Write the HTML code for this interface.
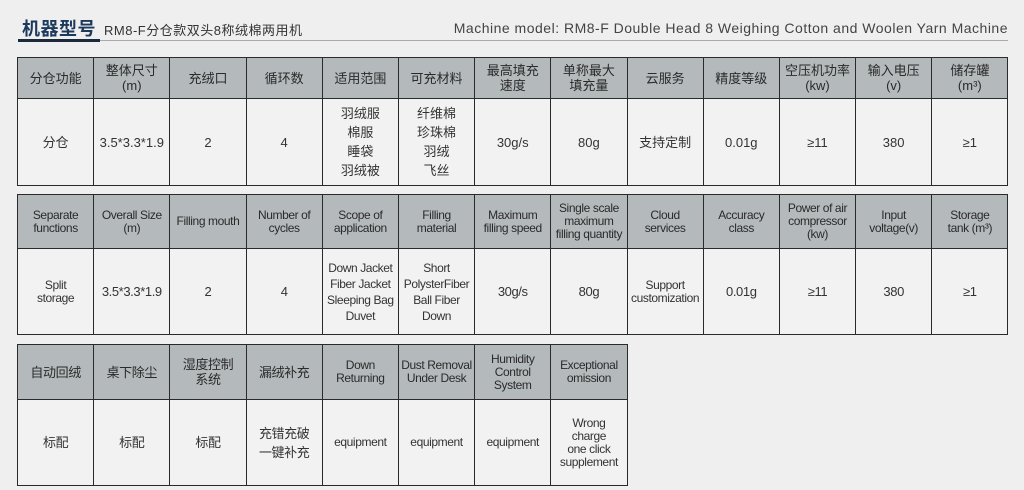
<!DOCTYPE html>
<html><head><meta charset="utf-8">
<style>
body{margin:0;width:1024px;height:490px;background:#efefef;font-family:"Liberation Sans","Noto Sans CJK SC",sans-serif;color:#333;position:relative;overflow:hidden}
.t{position:absolute;left:17px;border-collapse:collapse;table-layout:fixed}
.t td{border:1.5px solid #2a2a2a;text-align:center;vertical-align:middle;padding:0;font-size:13px;line-height:15px;overflow:hidden}
.t tr.h td{background:#b4b9bb;color:#2a2a2a}
.t tr.d td{background:#f2f2f2}
.en td{font-size:12px;line-height:13px;letter-spacing:-0.4px}
col{width:76.2px}
</style></head><body>
<div style="position:absolute;left:22px;top:15px;font-size:18px;font-weight:bold;color:#1d3a5c;letter-spacing:0.5px;white-space:nowrap">机器型号</div>
<div style="position:absolute;left:104px;top:20px;font-size:13px;color:#333;letter-spacing:0.5px;white-space:nowrap">RM8-F分仓款双头8称绒棉两用机</div>
<div style="position:absolute;right:16px;top:20px;font-size:14px;color:#444;letter-spacing:0.5px;white-space:nowrap">Machine model: RM8-F Double Head 8 Weighing Cotton and Woolen Yarn Machine</div>
<div style="position:absolute;left:18px;top:40px;width:990px;height:1px;background:#aaa"></div>
<div style="position:absolute;left:18px;top:39px;width:82px;height:3px;background:#1a2a3a"></div>

<table class="t" style="top:57px;width:991px">
<colgroup><col><col><col><col><col><col><col><col><col><col><col><col><col></colgroup>
<tr class="h" style="height:41px"><td>分仓功能</td><td>整体尺寸<br>(m)</td><td>充绒口</td><td>循环数</td><td>适用范围</td><td>可充材料</td><td>最高填充<br>速度</td><td>单称最大<br>填充量</td><td>云服务</td><td>精度等级</td><td>空压机功率<br>(kw)</td><td>输入电压<br>(v)</td><td>储存罐<br>(m³)</td></tr>
<tr class="d" style="height:87px"><td>分仓</td><td>3.5*3.3*1.9</td><td>2</td><td>4</td><td style="line-height:19px">羽绒服<br>棉服<br>睡袋<br>羽绒被</td><td style="line-height:19px">纤维棉<br>珍珠棉<br>羽绒<br>飞丝</td><td>30g/s</td><td>80g</td><td>支持定制</td><td>0.01g</td><td>≥11</td><td>380</td><td>≥1</td></tr>
</table>

<table class="t en" style="top:194px;width:991px">
<colgroup><col><col><col><col><col><col><col><col><col><col><col><col><col></colgroup>
<tr class="h" style="height:54px"><td>Separate<br>functions</td><td>Overall Size<br>(m)</td><td>Filling mouth</td><td>Number of<br>cycles</td><td>Scope of<br>application</td><td>Filling<br>material</td><td>Maximum<br>filling speed</td><td>Single scale<br>maximum<br>filling quantity</td><td>Cloud<br>services</td><td>Accuracy<br>class</td><td>Power of air<br>compressor<br>(kw)</td><td>Input<br>voltage(v)</td><td>Storage<br>tank (m³)</td></tr>
<tr class="d" style="height:86px"><td>Split<br>storage</td><td style="font-size:13px">3.5*3.3*1.9</td><td style="font-size:13px">2</td><td style="font-size:13px">4</td><td style="line-height:16px">Down Jacket<br>Fiber Jacket<br>Sleeping Bag<br>Duvet</td><td style="line-height:16px">Short<br>PolysterFiber<br>Ball Fiber<br>Down</td><td style="font-size:13px">30g/s</td><td style="font-size:13px">80g</td><td>Support<br>customization</td><td style="font-size:13px">0.01g</td><td style="font-size:13px">≥11</td><td style="font-size:13px">380</td><td style="font-size:13px">≥1</td></tr>
</table>

<table class="t en" style="top:344px;width:610px">
<colgroup><col><col><col><col><col><col><col><col></colgroup>
<tr class="h" style="height:55px"><td style="font-size:13px">自动回绒</td><td style="font-size:13px">桌下除尘</td><td style="font-size:13px;line-height:15px">湿度控制<br>系统</td><td style="font-size:13px">漏绒补充</td><td>Down<br>Returning</td><td>Dust Removal<br>Under Desk</td><td>Humidity<br>Control<br>System</td><td>Exceptional<br>omission</td></tr>
<tr class="d" style="height:86px"><td style="font-size:13px">标配</td><td style="font-size:13px">标配</td><td style="font-size:13px">标配</td><td style="font-size:13px;line-height:19px">充错充破<br>一键补充</td><td>equipment</td><td>equipment</td><td>equipment</td><td>Wrong<br>charge<br>one click<br>supplement</td></tr>
</table>
</body></html>
